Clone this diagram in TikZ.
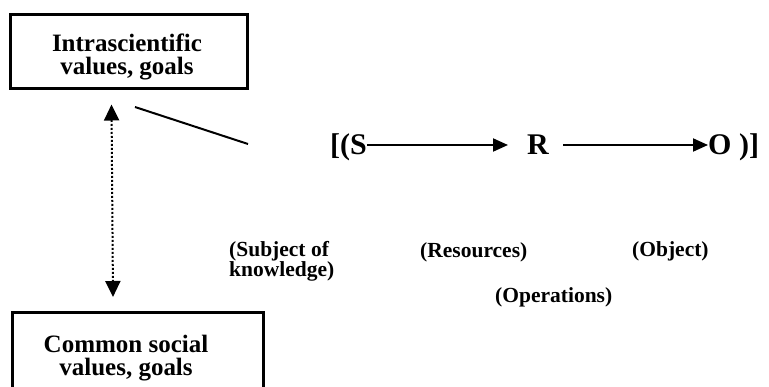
\documentclass[tikz,border=0pt]{standalone}
\usepackage{fontspec}
\setmainfont{Liberation Serif}
\usetikzlibrary{arrows.meta}
\tikzset{
  box/.style={draw, line width=3pt, inner sep=0pt},
  boxtext/.style={font=\fontsize{25}{23}\selectfont\bfseries, align=center, inner sep=0pt},
  rowtext/.style={font=\fontsize{30}{30}\selectfont\bfseries, inner sep=0pt, anchor=base west},
  lbl/.style={font=\fontsize{21.5}{20}\selectfont\bfseries, inner sep=0pt, anchor=base west, align=left},
  rowarrow/.style={line width=2pt, -{Triangle[length=15pt,width=13pt]}},
  dotarrow/.style={line width=2pt, dash pattern=on 2pt off 2pt, {Triangle[length=16pt,width=15pt]}-{Triangle[length=16pt,width=15pt]}},
}
\begin{document}
\begin{tikzpicture}[x=1pt,y=-1pt]
\useasboundingbox (0,0) rectangle (769,387);
% boxes
\node[box, minimum width=237pt, minimum height=74pt] (intra) at (129,51.5) {};
\node[boxtext] (intratext) at (127,57) {Intrascientific\\values, goals};
\node[box, anchor=north west, minimum width=251pt, minimum height=120pt] (common) at (10.5,311.5) {};
\node[boxtext] (commontext) at (126,358) {Common social\\values, goals};
% dotted double arrow
\draw[dotarrow] ([shift={(-17.5,14.5)}]intra.south) -- ([shift={(-24.5,-14.5)}]common.north);
% slanted line
\coordinate (lineend) at (248,144);
\draw[line width=2pt] ([shift={(6,17)}]intra.south) -- (lineend);
% main row
\node[rowtext] (S) at (330,155) {[(S};
\node[rowtext] (R) at (527,155) {R};
\node[rowtext] (O) at (708,155) {O )]};
\draw[rowarrow, shorten >=19pt] ([yshift=10pt]S.base east) -- ([yshift=10pt]R.base west);
\draw[rowarrow, shorten <=14pt] ([yshift=10pt]R.base east) -- ([yshift=10pt]O.base west);
% labels
\node[lbl] (subj) at (229,277) {(Subject of\\knowledge)};
\node[lbl] (res) at (420,258) {(Resources)};
\node[lbl] (obj) at (632,257) {(Object)};
\node[lbl] (ops) at (495,303) {(Operations)};
\end{tikzpicture}
\end{document}
